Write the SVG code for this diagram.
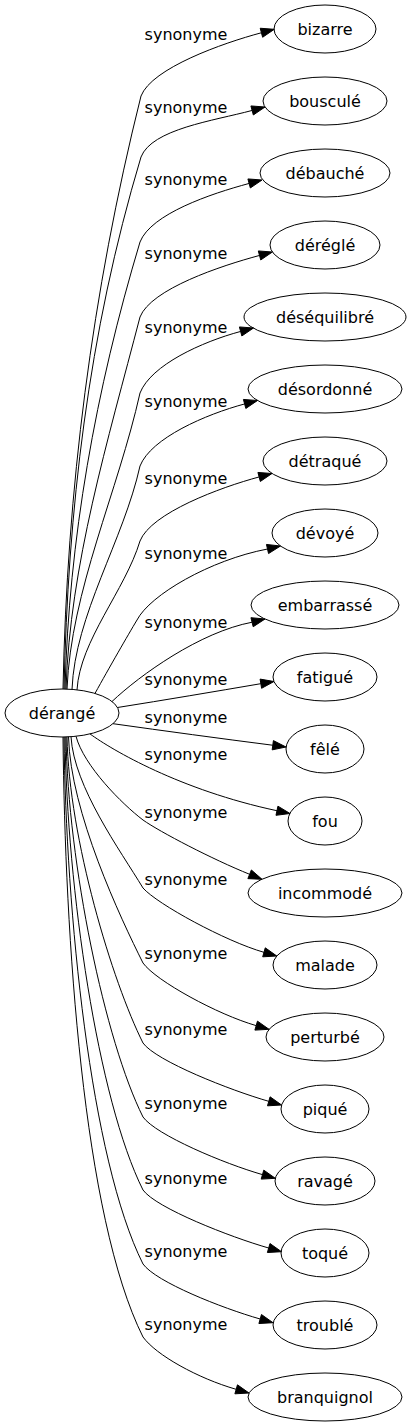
<svg xmlns="http://www.w3.org/2000/svg" width="410" height="1427" viewBox="0 0 410 1427">
<style>
text{font-family:"DejaVu Sans","Liberation Sans",sans-serif;font-size:16px;text-anchor:middle;fill:#000}
.node ellipse{fill:none;stroke:#000;stroke-width:1}
.edge path{fill:none;stroke:#000;stroke-width:1}
.edge polygon{fill:#000;stroke:#000;stroke-width:1}
</style>
<rect width="410" height="1427" fill="#fff"/>
<g id="edges">
<g class="edge" id="e-bizarre"><path d="M63,689 C67,491.3 91.6,293.7 141,96 C152,68 222.78,43.1 261.42,32.75"/><polygon points="274.3,29.3 262.63,37.26 260.21,28.24"/><text x="186" y="39.7">synonyme</text></g>
<g class="edge" id="e-bouscule"><path d="M64,689 C68,511.7 87.8,334.3 141,157 C152,129 213.5,120.8 252.12,110.45"/><polygon points="265,107 253.33,114.96 250.91,105.94"/><text x="186" y="112.7">synonyme</text></g>
<g class="edge" id="e-debauche"><path d="M65,689 C69,540 95.3,391 140,242 C151,214 210.5,193.8 249.12,183.45"/><polygon points="262,180 250.33,187.96 247.91,178.94"/><text x="186" y="185.4">synonyme</text></g>
<g class="edge" id="e-deregle"><path d="M66,689.1 C70,565.3 107.7,441.2 140,317 C151,289 220.88,265.8 259.52,255.45"/><polygon points="272.4,252 260.73,259.96 258.31,250.94"/><text x="186" y="258.7">synonyme</text></g>
<g class="edge" id="e-desequilibre"><path d="M67,689.1 C71,590.4 118,491.7 140,393 C151,365 201.98,341.8 240.62,331.45"/><polygon points="253.5,328 241.83,335.96 239.41,326.94"/><text x="186" y="332.7">synonyme</text></g>
<g class="edge" id="e-desordonne"><path d="M72,689.4 C75,614.9 123.5,540.5 140,466 C151,438 205.98,414.3 244.62,403.95"/><polygon points="257.5,400.5 245.83,408.46 243.41,399.44"/><text x="186" y="407">synonyme</text></g>
<g class="edge" id="e-detraque"><path d="M77,689.9 C80,640.3 125,590.6 140,541 C151,513 220.5,487.3 259.12,476.95"/><polygon points="272,473.5 260.33,481.46 257.91,472.44"/><text x="186" y="483.7">synonyme</text></g>
<g class="edge" id="e-devoye"><path d="M95,693.4 C109,668 128,635 137,620 C150,595 210,560 267.51,549"/><polygon points="280.5,546 268.56,553.55 266.46,544.45"/><text x="186" y="559.4">synonyme</text></g>
<g class="edge" id="e-embarrasse"><path d="M112,701.5 C140,675 200,632 252.07,622.22"/><polygon points="265,619 253.2,626.75 250.94,617.69"/><text x="186" y="628">synonyme</text></g>
<g class="edge" id="e-fatigue"><path d="M117.5,707.5 C165,700 215,691.5 260.85,683.68"/><polygon points="274,681.5 261.6,688.3 260.1,679.1"/><text x="186" y="684.7">synonyme</text></g>
<g class="edge" id="e-fele"><path d="M113,723.7 C165,731 220,738.5 272.79,745.24"/><polygon points="286,747 272.17,749.87 273.41,740.61"/><text x="186" y="722.7">synonyme</text></g>
<g class="edge" id="e-fou"><path d="M90,733.9 C112,750 180,790 276.96,810.73"/><polygon points="290,813.5 275.99,815.3 277.93,806.16"/><text x="186" y="760.4">synonyme</text></g>
<g class="edge" id="e-incommode"><path d="M76,736.3 C84,766 122,804 143,820 C160,832 212.5,859.3 249.64,874.31"/><polygon points="262,879.3 247.89,878.64 251.39,869.98"/><text x="186" y="818">synonyme</text></g>
<g class="edge" id="e-malade"><path d="M71,736.7 C74,787 120,850 143,888 C157,904 225.54,941.31 263.99,952.33"/><polygon points="276.8,956 262.7,956.82 265.28,947.84"/><text x="186" y="885.4">synonyme</text></g>
<g class="edge" id="e-perturbe"><path d="M68.5,736.8 C70.5,812.2 120.4,917.8 143,963 C156,981 217.74,1014.61 256.19,1025.63"/><polygon points="269,1029.3 254.9,1030.12 257.48,1021.14"/><text x="186" y="959.4">synonyme</text></g>
<g class="edge" id="e-pique"><path d="M67,736.9 C69,838.9 112.4,981.8 143,1043 C156,1061 230.34,1090.31 268.79,1101.33"/><polygon points="281.6,1105 267.5,1105.82 270.08,1096.84"/><text x="186" y="1034.7">synonyme</text></g>
<g class="edge" id="e-ravage"><path d="M66,737 C68,863.7 105,1041 143,1117 C156,1135 224.04,1163.61 262.49,1174.63"/><polygon points="275.3,1178.3 261.2,1179.12 263.78,1170.14"/><text x="186" y="1109.4">synonyme</text></g>
<g class="edge" id="e-toque"><path d="M65,737 C67,888 97.7,1099.4 143,1190 C156,1208 230.24,1237.01 268.69,1248.03"/><polygon points="281.5,1251.7 267.4,1252.52 269.98,1243.54"/><text x="186" y="1183.7">synonyme</text></g>
<g class="edge" id="e-trouble"><path d="M64,737 C66,912.7 90.3,1158.6 143,1264 C156,1282 221.74,1308.01 260.19,1319.03"/><polygon points="273,1322.7 258.9,1323.52 261.48,1314.54"/><text x="186" y="1257">synonyme</text></g>
<g class="edge" id="e-branquignol"><path d="M63,737 C65,937 83,1217 143,1337 C156,1355 197.74,1378.3 236.19,1389.33"/><polygon points="249,1393 234.9,1393.82 237.48,1384.84"/><text x="186" y="1330.4">synonyme</text></g>
</g>
<g class="node" id="n-derange"><ellipse cx="62" cy="713" rx="57" ry="24"/><text x="62" y="718.5">dérangé</text></g>
<g class="node" id="n-bizarre"><ellipse cx="325" cy="29" rx="51" ry="24"/><text x="325" y="34.5">bizarre</text></g>
<g class="node" id="n-bouscule"><ellipse cx="325" cy="101" rx="62" ry="24"/><text x="325" y="106.5">bousculé</text></g>
<g class="node" id="n-debauche"><ellipse cx="325" cy="173" rx="65" ry="24"/><text x="325" y="178.5">débauché</text></g>
<g class="node" id="n-deregle"><ellipse cx="325" cy="245" rx="55" ry="24"/><text x="325" y="250.5">déréglé</text></g>
<g class="node" id="n-desequilibre"><ellipse cx="325" cy="317" rx="81" ry="24"/><text x="325" y="322.5">déséquilibré</text></g>
<g class="node" id="n-desordonne"><ellipse cx="325" cy="389" rx="77" ry="24"/><text x="325" y="394.5">désordonné</text></g>
<g class="node" id="n-detraque"><ellipse cx="325" cy="461" rx="62" ry="24"/><text x="325" y="466.5">détraqué</text></g>
<g class="node" id="n-devoye"><ellipse cx="325" cy="533" rx="53" ry="24"/><text x="325" y="538.5">dévoyé</text></g>
<g class="node" id="n-embarrasse"><ellipse cx="325" cy="605" rx="74" ry="24"/><text x="325" y="610.5">embarrassé</text></g>
<g class="node" id="n-fatigue"><ellipse cx="325" cy="677" rx="52" ry="24"/><text x="325" y="682.5">fatigué</text></g>
<g class="node" id="n-fele"><ellipse cx="325" cy="749" rx="39" ry="24"/><text x="325" y="754.5">fêlé</text></g>
<g class="node" id="n-fou"><ellipse cx="325" cy="821" rx="37" ry="24"/><text x="325" y="826.5">fou</text></g>
<g class="node" id="n-incommode"><ellipse cx="325" cy="893" rx="77" ry="24"/><text x="325" y="898.5">incommodé</text></g>
<g class="node" id="n-malade"><ellipse cx="325" cy="965" rx="52" ry="24"/><text x="325" y="970.5">malade</text></g>
<g class="node" id="n-perturbe"><ellipse cx="325" cy="1037" rx="59" ry="24"/><text x="325" y="1042.5">perturbé</text></g>
<g class="node" id="n-pique"><ellipse cx="325" cy="1109" rx="44" ry="24"/><text x="325" y="1114.5">piqué</text></g>
<g class="node" id="n-ravage"><ellipse cx="325" cy="1181" rx="50" ry="24"/><text x="325" y="1186.5">ravagé</text></g>
<g class="node" id="n-toque"><ellipse cx="325" cy="1253" rx="44" ry="24"/><text x="325" y="1258.5">toqué</text></g>
<g class="node" id="n-trouble"><ellipse cx="325" cy="1325" rx="52" ry="24"/><text x="325" y="1330.5">troublé</text></g>
<g class="node" id="n-branquignol"><ellipse cx="325" cy="1397" rx="77" ry="24"/><text x="325" y="1402.5">branquignol</text></g>
</svg>
